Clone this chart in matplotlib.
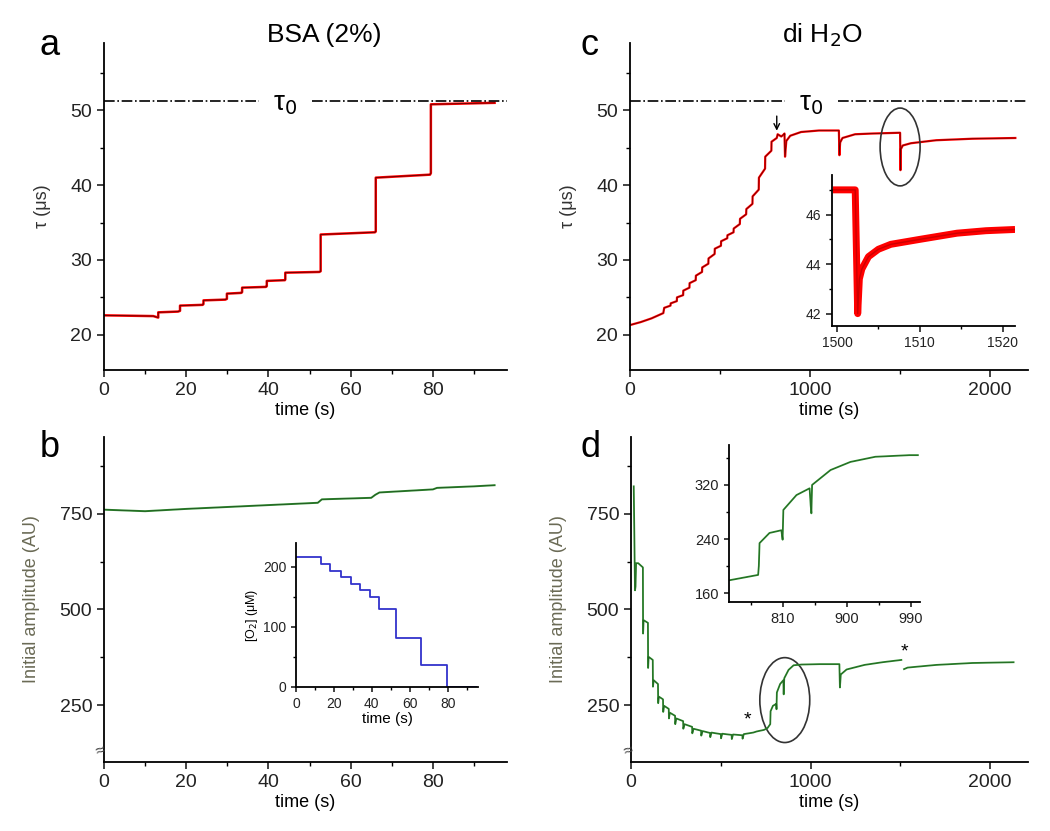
import numpy as np
import matplotlib
matplotlib.use('Agg')
import matplotlib.pyplot as plt
from matplotlib.patches import Ellipse

plt.rcParams['font.family'] = ['Liberation Sans', 'DejaVu Sans']
plt.rcParams['axes.linewidth'] = 1.3

# --- panel a: BSA (2%), lifetime vs time
t_a = [0, 12, 13.2, 13.2, 18, 18.5, 18.5, 24, 24.2, 24.2, 29.5, 29.9, 29.9, 33.4, 33.6, 33.6,
       39.4, 39.6, 39.6, 44, 44.1, 44.1, 52.4, 52.7, 52.7, 65.9, 66.1, 66.1, 79.3, 79.5, 79.5, 95]
tau_a = [22.6, 22.5, 22.3, 23.0, 23.1, 23.2, 23.9, 24.0, 24.1, 24.6, 24.7, 24.8, 25.5, 25.6, 25.7, 26.3,
         26.4, 26.5, 27.2, 27.3, 27.4, 28.3, 28.4, 28.5, 33.4, 33.7, 33.8, 41.0, 41.4, 41.6, 50.8, 51.0]
tau0 = 51.2

# --- panel b: BSA (2%), initial amplitude
t_b = [0, 10, 20, 30, 40, 50, 52, 53, 65, 66, 67, 80, 81, 90, 95]
amp_b = [761, 757, 763, 768, 773, 778, 779, 788, 792, 800, 806, 814, 818, 822, 825]

# inset b: oxygen concentration
t_o2 = [0, 13, 13, 18, 18, 24, 24, 29, 29, 34, 34, 39, 39, 44, 44, 52.6, 52.6, 66, 66, 79.5, 79.5, 95]
o2 = [216, 216, 205, 205, 194, 194, 184, 184, 172, 172, 161, 161, 150, 150, 130, 130, 81, 81, 36, 36, 0, 0]

# --- panel c: di H2O, lifetime vs time
t_c = [0, 60, 120, 185, 190, 225, 226, 260, 261, 295, 296, 330, 331, 365, 366, 400, 401,
       435, 436, 470, 471, 505, 506, 540, 541, 575, 576, 610, 611, 645, 646, 680, 681,
       715, 716, 750, 751, 785, 786, 815, 820, 840, 855, 858, 861, 868, 890, 950, 1050,
       1160, 1163, 1167, 1180, 1250, 1350, 1500, 1502, 1504, 1515, 1560, 1700, 1900, 2140]
tau_c = [21.3, 21.7, 22.2, 22.9, 23.6, 23.9, 24.2, 24.5, 25.0, 25.3, 25.9, 26.3, 26.9, 27.3, 27.9, 28.4, 29.0,
         29.5, 30.2, 30.8, 31.5, 31.9, 32.5, 32.9, 33.3, 33.7, 34.2, 34.8, 35.5, 36.1, 36.8, 37.5, 38.5,
         39.4, 41.0, 42.2, 43.8, 44.6, 45.8, 46.3, 46.8, 46.5, 46.8, 46.9, 43.8, 45.9, 46.6, 47.1, 47.3,
         47.3, 44.0, 45.7, 46.3, 46.8, 46.9, 47.0, 42.0, 44.8, 45.3, 45.6, 46.0, 46.2, 46.3]

# inset c: zoom on the dip near 1500 s
t_ci = [1499.5, 1502.2, 1502.5, 1502.7, 1503.0, 1503.8, 1505.0, 1506.5, 1510.0, 1514.5, 1518.0, 1521.5]
tau_ci = [47.0, 47.0, 42.0, 43.4, 43.8, 44.3, 44.6, 44.8, 45.0, 45.25, 45.35, 45.4]

# --- panel d: di H2O, initial amplitude (nan = gap in recording)
t_d = [15, 22, 25, 28, 40, 66, 67, 70, 94, 95, 98, 121, 122, 126, 150, 151, 155, 178, 179, 184,
       210, 211, 216, 245, 246, 252, 290, 291, 298, 340, 341, 348, 390, 391, 398, 440, 441, 448,
       500, 501, 508, 560, 561, 568, 620, 621, 628, 680, 700, 740, 760, 775, 777, 790, 808, 810,
       812, 830, 848, 850, 853, 877, 905, 950, 1050, 1160, 1163, 1168, 1200, 1300, 1400, 1505,
       1512, 1520, 1540, 1700, 1900, 2130]
amp_d = [822, 550, 560, 621, 621, 610, 437, 472, 465, 347, 376, 368, 298, 315, 305, 255, 272, 265, 232, 248,
         240, 215, 230, 222, 200, 215, 208, 188, 200, 193, 176, 188, 183, 170, 182, 177, 166, 178,
         174, 163, 175, 172, 161, 173, 171, 162, 174, 178, 181, 185, 190, 200, 234, 248, 253, 239,
         283, 305, 315, 278, 320, 342, 354, 356, 357, 357, 296, 330, 343, 355, 362, 368,
         np.nan, 344, 348, 355, 360, 362]

# inset d: zoom on the rise 740-1000 s
t_di = [734, 775, 776, 777, 791, 807.7, 809.5, 810.5, 829, 847.5, 849, 850, 851, 877, 905, 940, 988, 1000]
amp_di = [179, 187, 200, 234, 249, 253, 239, 283, 305, 315, 290, 278, 320, 342, 354, 361.6, 364, 364]

fig = plt.figure(figsize=(10.5, 8.31), dpi=100)

ax_a = fig.add_axes([0.099, 0.5548, 0.3838, 0.3935])
ax_c = fig.add_axes([0.600, 0.5548, 0.3790, 0.3935])
ax_b = fig.add_axes([0.099, 0.0830, 0.3838, 0.3911])
ax_d = fig.add_axes([0.601, 0.0830, 0.3780, 0.3911])


def style(ax, fs=14, major=5, minor=3):
    for s in ('top', 'right'):
        ax.spines[s].set_visible(False)
    ax.tick_params(which='major', direction='out', length=major, width=1.2, labelsize=fs,
                   colors='#222222')
    ax.tick_params(which='minor', direction='out', length=minor, width=1.0)


for ax in (ax_a, ax_b, ax_c, ax_d):
    style(ax)

# panel a
ax_a.plot(t_a, tau_a, color='red', lw=1.8)
ax_a.plot(t_a, tau_a, color='#330000', lw=0.6, alpha=0.8)
ax_a.plot([0, 37.6], [tau0, tau0], color='black', ls='-.', lw=1.2)
ax_a.plot([50.7, 98], [tau0, tau0], color='black', ls='-.', lw=1.2)
ax_a.text(44, tau0 - 0.3, 'τ$_0$', ha='center', va='center', fontsize=20)
ax_a.set_xlim(0, 98)
ax_a.set_ylim(15.3, 59)
ax_a.set_xticks([0, 20, 40, 60, 80])
ax_a.set_xticks([10, 30, 50, 70, 90], minor=True)
ax_a.set_yticks([20, 30, 40, 50])
ax_a.set_yticks([25, 35, 45, 55], minor=True)
ax_a.set_xlabel('time (s)', fontsize=13, labelpad=2)
ax_a.set_ylabel('τ (μs)', fontsize=13, color='#333333', labelpad=14)
fig.text(0.3086, 0.958, 'BSA (2%)', fontsize=19, ha='center', va='center')
fig.text(0.038, 0.945, 'a', fontsize=26, va='center')

# panel c
ax_c.plot(t_c, tau_c, color='red', lw=1.6)
ax_c.plot(t_c, tau_c, color='#330000', lw=0.5, alpha=0.8)
ax_c.plot([0, 861], [tau0, tau0], color='black', ls='-.', lw=1.2)
ax_c.plot([1155, 2210], [tau0, tau0], color='black', ls='-.', lw=1.2)
ax_c.text(1005, tau0 - 0.3, 'τ$_0$', ha='center', va='center', fontsize=20)
ax_c.annotate('', xy=(815, 46.9), xytext=(815, 49.6),
              arrowprops=dict(arrowstyle='->', color='black', lw=1.0))
ax_c.add_patch(Ellipse((1500, 45.1), 222, 10.4, fill=False, ec='#333333', lw=1.2, zorder=5))
ax_c.set_xlim(0, 2210)
ax_c.set_ylim(15.3, 59)
ax_c.set_xticks([0, 1000, 2000])
ax_c.set_xticks([500, 1500], minor=True)
ax_c.set_yticks([20, 30, 40, 50])
ax_c.set_yticks([25, 35, 45, 55], minor=True)
ax_c.set_xlabel('time (s)', fontsize=13, labelpad=2)
ax_c.set_ylabel('τ (μs)', fontsize=13, color='#333333', labelpad=14)
fig.text(0.783, 0.958, 'di H$_2$O', fontsize=19, ha='center', va='center')
fig.text(0.553, 0.945, 'c', fontsize=26, va='center')

ax_ci = fig.add_axes([0.7924, 0.6077, 0.1743, 0.1817])
ax_ci.patch.set_alpha(0)
style(ax_ci, fs=10, major=4, minor=2.5)
ax_ci.plot(t_ci, tau_ci, color='red', lw=5, solid_capstyle='butt')
ax_ci.plot(t_ci, tau_ci, color='#cc0000', lw=1.0)
ax_ci.set_xlim(1499.4, 1521.5)
ax_ci.set_ylim(41.5, 47.6)
ax_ci.set_xticks([1500, 1510, 1520])
ax_ci.set_xticks([1505, 1515], minor=True)
ax_ci.set_yticks([42, 44, 46])
ax_ci.set_yticks([43, 45, 47], minor=True)

# panel b
ax_b.plot(t_b, amp_b, color='#2e8b2e', lw=1.4)
ax_b.plot(t_b, amp_b, color='#1a3a1a', lw=0.5, alpha=0.7)
ax_b.set_xlim(0, 98)
ax_b.set_ylim(101, 951)
ax_b.set_xticks([0, 20, 40, 60, 80])
ax_b.set_xticks([10, 30, 50, 70, 90], minor=True)
ax_b.set_yticks([250, 500, 750])
ax_b.set_yticks([375, 625, 875], minor=True)
ax_b.set_xlabel('time (s)', fontsize=13, labelpad=2)
ax_b.set_ylabel('Initial amplitude (AU)', fontsize=13, color='#6a6a55', labelpad=14)
ax_b.text(-0.8, 130, '≈', fontsize=12, ha='center', va='center', color='#444444', rotation=20)
fig.text(0.038, 0.462, 'b', fontsize=26, va='center')

ax_bi = fig.add_axes([0.2819, 0.1733, 0.1733, 0.1733])
ax_bi.patch.set_alpha(0)
style(ax_bi, fs=10, major=3.5, minor=2)
ax_bi.plot(t_o2, o2, color='#3333cc', lw=1.3)
ax_bi.set_xlim(0, 96)
ax_bi.set_ylim(0, 240)
ax_bi.set_xticks([0, 20, 40, 60, 80])
ax_bi.set_xticks([10, 30, 50, 70, 90], minor=True)
ax_bi.set_yticks([0, 100, 200])
ax_bi.set_yticks([50, 150], minor=True)
ax_bi.set_xlabel('time (s)', fontsize=11, labelpad=1)
ax_bi.set_ylabel('[O$_2$] (μM)', fontsize=9, labelpad=2)

# panel d
ax_d.plot(t_d, amp_d, color='#2e8b2e', lw=1.3)
ax_d.plot(t_d, amp_d, color='#1a3a1a', lw=0.4, alpha=0.6)
ax_d.text(650, 210, '*', fontsize=14, ha='center', va='center')
ax_d.text(1522, 390, '*', fontsize=14, ha='center', va='center')
ax_d.add_patch(Ellipse((856, 263), 278, 222, fill=False, ec='#333333', lw=1.2))
ax_d.set_xlim(0, 2210)
ax_d.set_ylim(101, 951)
ax_d.set_xticks([0, 1000, 2000])
ax_d.set_xticks([500, 1500], minor=True)
ax_d.set_yticks([250, 500, 750])
ax_d.set_yticks([375, 625, 875], minor=True)
ax_d.set_xlabel('time (s)', fontsize=13, labelpad=2)
ax_d.set_ylabel('Initial amplitude (AU)', fontsize=13, color='#6a6a55', labelpad=14)
ax_d.text(-18, 130, '≈', fontsize=12, ha='center', va='center', color='#444444', rotation=20)
fig.text(0.553, 0.462, 'd', fontsize=26, va='center')

ax_di = fig.add_axes([0.6943, 0.2756, 0.1819, 0.1889])
ax_di.patch.set_alpha(0)
style(ax_di, fs=10.5, major=3.5, minor=2)
ax_di.plot(t_di, amp_di, color='#2e8b2e', lw=1.3)
ax_di.plot(t_di, amp_di, color='#1a3a1a', lw=0.4, alpha=0.6)
ax_di.set_xlim(734, 1003)
ax_di.set_ylim(147, 379)
ax_di.set_xticks([810, 900, 990])
ax_di.set_xticks([765, 855, 945], minor=True)
ax_di.set_yticks([160, 240, 320])
ax_di.set_yticks([200, 280, 360], minor=True)

fig.savefig('out.png', dpi=100)
